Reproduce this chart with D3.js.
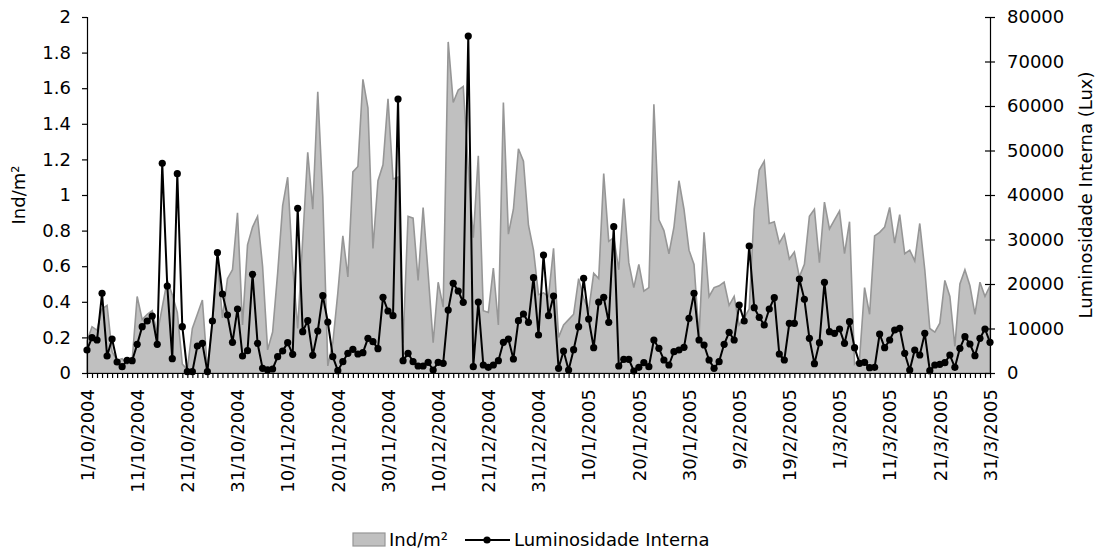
<!DOCTYPE html>
<html><head><meta charset="utf-8">
<script src="https://cdn.jsdelivr.net/npm/d3@7"></script>
<style>body{margin:0;background:#fff}svg{display:block}text{font-family:"DejaVu Sans",Verdana,sans-serif}</style>
</head><body><svg id="c" width="1103" height="551"></svg>
<script>
const dates = [
"1/10/2004","2/10/2004","3/10/2004","4/10/2004","5/10/2004","6/10/2004","7/10/2004","8/10/2004","9/10/2004","10/10/2004",
"11/10/2004","12/10/2004","13/10/2004","14/10/2004","15/10/2004","16/10/2004","17/10/2004","18/10/2004","19/10/2004","20/10/2004",
"21/10/2004","22/10/2004","23/10/2004","24/10/2004","25/10/2004","26/10/2004","27/10/2004","28/10/2004","29/10/2004","30/10/2004",
"31/10/2004","1/11/2004","2/11/2004","3/11/2004","4/11/2004","5/11/2004","6/11/2004","7/11/2004","8/11/2004","9/11/2004",
"10/11/2004","11/11/2004","12/11/2004","13/11/2004","14/11/2004","15/11/2004","16/11/2004","17/11/2004","18/11/2004","19/11/2004",
"20/11/2004","21/11/2004","22/11/2004","23/11/2004","24/11/2004","25/11/2004","26/11/2004","27/11/2004","28/11/2004","29/11/2004",
"30/11/2004","1/12/2004","2/12/2004","3/12/2004","4/12/2004","5/12/2004","6/12/2004","7/12/2004","8/12/2004","9/12/2004",
"10/12/2004","11/12/2004","12/12/2004","13/12/2004","14/12/2004","15/12/2004","16/12/2004","17/12/2004","19/12/2004","20/12/2004",
"21/12/2004","22/12/2004","23/12/2004","24/12/2004","25/12/2004","26/12/2004","27/12/2004","28/12/2004","29/12/2004","30/12/2004",
"31/12/2004","1/1/2005","2/1/2005","3/1/2005","4/1/2005","5/1/2005","6/1/2005","7/1/2005","8/1/2005","9/1/2005",
"10/1/2005","11/1/2005","12/1/2005","13/1/2005","14/1/2005","15/1/2005","16/1/2005","17/1/2005","18/1/2005","19/1/2005",
"20/1/2005","21/1/2005","22/1/2005","23/1/2005","24/1/2005","25/1/2005","26/1/2005","27/1/2005","28/1/2005","29/1/2005",
"30/1/2005","31/1/2005","1/2/2005","2/2/2005","3/2/2005","4/2/2005","5/2/2005","6/2/2005","7/2/2005","8/2/2005",
"9/2/2005","10/2/2005","11/2/2005","12/2/2005","13/2/2005","14/2/2005","15/2/2005","16/2/2005","17/2/2005","18/2/2005",
"19/2/2005","20/2/2005","21/2/2005","22/2/2005","23/2/2005","24/2/2005","25/2/2005","26/2/2005","27/2/2005","28/2/2005",
"1/3/2005","2/3/2005","3/3/2005","4/3/2005","5/3/2005","6/3/2005","7/3/2005","8/3/2005","9/3/2005","10/3/2005",
"11/3/2005","12/3/2005","13/3/2005","14/3/2005","15/3/2005","16/3/2005","17/3/2005","18/3/2005","19/3/2005","20/3/2005",
"21/3/2005","22/3/2005","23/3/2005","24/3/2005","25/3/2005","26/3/2005","27/3/2005","28/3/2005","29/3/2005","30/3/2005",
"31/3/2005"];

const indM2 = [
0.18,0.26,0.24,0.36,0.38,0.12,0.07,0.08,0.05,0.07,
0.43,0.30,0.33,0.35,0.22,0.37,0.52,0.44,0.34,0.05,
0.02,0.25,0.33,0.41,0.02,0.28,0.63,0.31,0.53,0.58,
0.90,0.27,0.72,0.82,0.88,0.60,0.13,0.23,0.56,0.94,
1.10,0.60,0.25,0.75,1.24,0.92,1.58,0.99,0.04,0.17,
0.45,0.77,0.54,1.13,1.16,1.65,1.49,0.70,1.08,1.17,
1.54,1.09,1.10,0.17,0.88,0.87,0.52,0.93,0.56,0.17,
0.51,0.37,1.86,1.52,1.59,1.61,1.15,0.76,1.22,0.35,
0.34,0.59,0.27,1.52,0.78,0.92,1.26,1.19,0.83,0.69,
0.44,0.45,0.43,0.70,0.20,0.27,0.30,0.33,0.53,0.42,
0.35,0.56,0.53,1.12,0.74,0.76,0.58,0.98,0.62,0.48,
0.61,0.46,0.48,1.51,0.86,0.80,0.67,0.82,1.08,0.92,
0.69,0.61,0.21,0.79,0.43,0.48,0.49,0.51,0.38,0.43,
0.27,0.31,0.36,0.92,1.14,1.19,0.84,0.85,0.73,0.78,
0.64,0.68,0.54,0.61,0.88,0.92,0.62,0.96,0.81,0.86,
0.91,0.67,0.85,0.05,0.08,0.48,0.33,0.77,0.79,0.82,
0.93,0.73,0.89,0.67,0.69,0.63,0.84,0.58,0.25,0.23,
0.28,0.52,0.43,0.15,0.50,0.58,0.49,0.33,0.51,0.43,
0.49];

const luminosidade = [
5170,7940,7415,17900,3820,7640,2470,1420,2850,2770,
6440,10410,11680,12810,6440,47110,19550,3220,44790,10410,
300,300,6070,6670,300,11680,27040,17750,13030,6890,
14380,3820,5020,22170,6670,1050,700,900,3670,4940,
6820,4190,37000,9290,11760,3970,9440,17380,11460,3670,
520,2550,4420,5320,4270,4570,7790,7040,5470,17000,
13930,12880,61570,2770,4420,2550,1570,1570,2400,670,
2400,2170,14160,20150,18430,15880,75720,1420,15950,1800,
1270,1800,2770,6890,7640,3150,11760,13260,11380,21420,
8540,26510,12880,17300,1050,4940,670,5240,10410,21270,
12130,5690,15950,17000,11380,32880,1570,3070,3070,450,
1270,2320,1420,7415,5540,2920,1800,4790,5170,5770,
12280,17900,7415,6290,2920,1050,2550,6440,9140,7415,
15280,11680,28540,14680,12510,10790,14380,16930,4270,2920,
11160,11160,21120,16550,7790,2100,6820,20370,9290,8910,
9890,6670,11530,5690,2170,2400,1200,1270,8760,5690,
7415,9660,10040,4420,670,5170,4040,8910,520,1800,
1950,2320,4040,1270,5540,8160,6520,3890,7790,9890,
6890];

const xTickLabels = ["1/10/2004","11/10/2004","21/10/2004","31/10/2004","10/11/2004","20/11/2004","30/11/2004","10/12/2004","21/12/2004","31/12/2004","10/1/2005","20/1/2005","30/1/2005","9/2/2005","19/2/2005","1/3/2005","11/3/2005","21/3/2005","31/3/2005"];
const leftTicks = [0,0.2,0.4,0.6,0.8,1,1.2,1.4,1.6,1.8,2];
const rightTicks = [0,10000,20000,30000,40000,50000,60000,70000,80000];
const seriesNames = ["Ind/m²","Luminosidade Interna"];
const leftTitle = "Ind/m²";
const rightTitle = "Luminosidade Interna (Lux)";

const svg = d3.select("#c");
const FS = 18;
const x = d3.scalePoint().domain(dates).range([87, 990]);
const yL = d3.scaleLinear().domain([0, 2]).range([373, 17]);
const yR = d3.scaleLinear().domain([0, 80000]).range([373, 17]);

// area
const area = d3.area().x((d,i)=>x(dates[i])).y0(yL(0)).y1(d=>yL(d));
svg.append("path").datum(indM2).attr("d", area)
  .attr("fill","#c0c0c0").attr("stroke","#969696").attr("stroke-width",1.6).attr("stroke-linejoin","miter");

// line
const line = d3.line().x((d,i)=>x(dates[i])).y(d=>yR(d));
svg.append("path").datum(luminosidade).attr("d", line)
  .attr("fill","none").attr("stroke","#000").attr("stroke-width",2);
svg.append("g").selectAll("circle").data(luminosidade).join("circle")
  .attr("cx",(d,i)=>x(dates[i])).attr("cy",d=>yR(d)).attr("r",3.6).attr("fill","#000");

// axes
const fmt = d => String(d);
const gL = svg.append("g").attr("transform","translate(87,0)")
  .call(d3.axisLeft(yL).tickValues(leftTicks).tickFormat(fmt).tickSize(5).tickPadding(11));
const gR = svg.append("g").attr("transform","translate(990,0)")
  .call(d3.axisRight(yR).tickValues(rightTicks).tickFormat(fmt).tickSize(5).tickPadding(12));
gR.selectAll(".tick line").attr("x1",-5).attr("x2",5);
const gB = svg.append("g").attr("transform","translate(0,373)")
  .call(d3.axisBottom(x).tickValues(dates).tickFormat("").tickSize(5).tickSizeOuter(0));
const gBL = svg.append("g").attr("transform","translate(0,373)")
  .call(d3.axisBottom(x).tickValues(xTickLabels).tickSize(0).tickSizeOuter(0));
gBL.select(".domain").remove();
gBL.selectAll(".tick text").attr("transform","rotate(-90)").attr("text-anchor","end")
  .attr("x",-16).attr("y",0).attr("dy","0.35em");
[gL,gR,gB,gBL].forEach(g=>{
  g.selectAll("text").attr("font-size",FS).attr("font-family","DejaVu Sans").attr("fill","#000");
  g.selectAll("line,path").attr("stroke","#000").attr("stroke-width",1.2);
});

// titles
svg.append("text").attr("transform","translate(19,195) rotate(-90)").attr("text-anchor","middle")
  .attr("dy","0.35em").attr("font-size",FS).text(leftTitle);
svg.append("text").attr("transform","translate(1086,195) rotate(-90)").attr("text-anchor","middle")
  .attr("dy","0.35em").attr("font-size",FS).text(rightTitle);

// legend
const lg = svg.append("g");
lg.append("rect").attr("x",353).attr("y",533).attr("width",32).attr("height",13)
  .attr("fill","#c0c0c0").attr("stroke","#969696").attr("stroke-width",1.2);
lg.append("text").attr("x",389).attr("y",546).attr("font-size",FS).text(seriesNames[0]);
lg.append("line").attr("x1",465).attr("x2",510).attr("y1",540).attr("y2",540).attr("stroke","#000").attr("stroke-width",2);
lg.append("circle").attr("cx",487).attr("cy",540).attr("r",3.6).attr("fill","#000");
lg.append("text").attr("x",514).attr("y",546).attr("font-size",FS).text(seriesNames[1]);
</script></body></html>
